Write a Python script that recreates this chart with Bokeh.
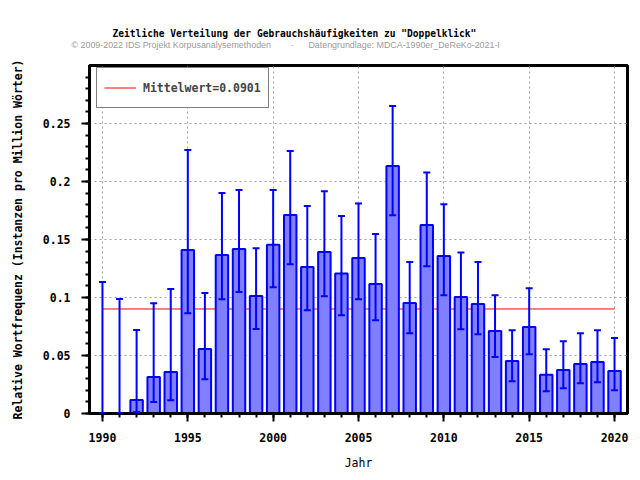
from bokeh.plotting import figure
from bokeh.models import (Range1d, SingleIntervalTicker, Whisker, TeeHead, ColumnDataSource,
                          Legend, LegendItem, Title, CustomJSTickFormatter)
from bokeh.embed import file_html
from bokeh.resources import INLINE

# ---- data ----
years = list(range(1990, 2021))
freq = [0.0, 0.0, 0.0117, 0.0315, 0.0358, 0.1409, 0.0557, 0.1366, 0.1418, 0.1013,
        0.1455, 0.1711, 0.1263, 0.1392, 0.1206, 0.1340, 0.1117, 0.2133, 0.0953, 0.1625,
        0.1358, 0.1004, 0.0944, 0.0712, 0.0453, 0.0746, 0.0333, 0.0376, 0.0427, 0.0445,
        0.0367]
err_upper = [0.1134, 0.0987, 0.0720, 0.0950, 0.1073, 0.2271, 0.1039, 0.1900, 0.1926, 0.1424,
             0.1926, 0.2262, 0.1788, 0.1915, 0.1702, 0.1811, 0.1547, 0.2650, 0.1306, 0.2078,
             0.1803, 0.1389, 0.1306, 0.1019, 0.0717, 0.1079, 0.0554, 0.0623, 0.0692, 0.0717,
             0.0651]
err_lower = [0.0, 0.0, 0.0014, 0.0100, 0.0115, 0.0864, 0.0295, 0.0985, 0.1048, 0.0729,
             0.1088, 0.1286, 0.0890, 0.1010, 0.0847, 0.0985, 0.0804, 0.1708, 0.0692, 0.1269,
             0.1019, 0.0726, 0.0683, 0.0488, 0.0278, 0.0511, 0.0192, 0.0218, 0.0261, 0.0270,
             0.0201]
mean_value = 0.0901

title_text = 'Zeitliche Verteilung der Gebrauchsh\u00e4ufigkeiten zu "Doppelklick"'
nb = "\u00a0"
subtitle_text = ("\u00a9 2009-2022 IDS Projekt Korpusanalysemethoden" + nb * 8 + "\u00b7" + nb * 6
                 + "Datengrundlage: MDCA-1990er_DeReKo-2021-I")
x_label = "Jahr"
y_label = "Relative Wortfrequenz (Instanzen pro Million W\u00f6rter)"

MONO = "DejaVu Sans Mono"
SANS = "Liberation Sans"

src = ColumnDataSource(dict(year=years, freq=freq, upper=err_upper, lower=err_lower))

p = figure(width=640, height=480, output_backend="svg", toolbar_location=None,
           x_range=Range1d(1989.24, 2020.76), y_range=Range1d(0, 0.3),
           min_border_left=89, min_border_right=13, min_border_top=65, min_border_bottom=67)
p.background_fill_color = "white"
p.border_fill_color = "white"
p.outline_line_color = "black"
p.outline_line_width = 3

# grid
for g in (p.xgrid[0], p.ygrid[0]):
    g.grid_line_color = "#a0a0a0"
    g.grid_line_dash = "2 3"
    g.grid_line_width = 1

# mean line (behind bars)
mean_r = p.line(x=[years[0], years[-1]], y=[mean_value, mean_value], line_color="red", line_width=1)

# bars
p.vbar(x="year", top="freq", bottom=0, width=0.73, source=src,
       fill_color="#8080ff", line_color="#0000ff", line_width=2)

# error bars
wh = Whisker(base="year", upper="upper", lower="lower", source=src,
             line_color="#0000ff", line_width=2, level="annotation",
             upper_head=TeeHead(size=7, line_color="#0000ff", line_width=2),
             lower_head=TeeHead(size=7, line_color="#0000ff", line_width=2))
p.add_layout(wh)

# axes
xa = p.xaxis[0]
ya = p.yaxis[0]
xa.ticker = SingleIntervalTicker(interval=5, num_minor_ticks=5)
ya.ticker = SingleIntervalTicker(interval=0.05, num_minor_ticks=5)
p.xgrid[0].ticker = xa.ticker
p.ygrid[0].ticker = ya.ticker
ya.formatter = CustomJSTickFormatter(code="return String(parseFloat(tick.toFixed(3)));")
for ax in (xa, ya):
    ax.axis_line_color = "black"
    ax.axis_line_width = 3
    ax.major_tick_line_color = "black"
    ax.minor_tick_line_color = "black"
    ax.major_tick_line_width = 2
    ax.minor_tick_line_width = 2
    ax.major_tick_out = 8
    ax.major_tick_in = 0
    ax.minor_tick_out = 4
    ax.minor_tick_in = 0
    ax.major_label_text_font = MONO
    ax.major_label_text_font_style = "bold"
    ax.major_label_text_font_size = "11.5px"
    ax.major_label_text_color = "black"
    ax.major_label_standoff = 11
    ax.axis_label_text_font = MONO
    ax.axis_label_text_font_size = "11.5px"
    ax.axis_label_text_color = "black"
xa.axis_label = x_label
xa.axis_label_text_font_style = "normal"
xa.axis_label_standoff = 11
ya.axis_label = y_label
ya.axis_label_text_font_style = "bold"
ya.axis_label_standoff = 15

# legend
legend = Legend(items=[LegendItem(label=f"Mittelwert={mean_value}", renderers=[mean_r])],
                location=(7, 305), padding=7, margin=0, spacing=0,
                glyph_width=32, glyph_height=25, label_height=25, label_standoff=7,
                label_text_font=MONO, label_text_font_style="bold", label_text_font_size="11.5px",
                border_line_color="black", border_line_width=1,
                background_fill_color="white", background_fill_alpha=1)
p.add_layout(legend)

# titles
sub = Title(text=subtitle_text, align="left", offset=-18, text_font=SANS,
            text_font_size="8.9px", text_font_style="normal", text_color="#9a9a9a", standoff=32)
p.add_layout(sub, "above")
main = Title(text=title_text, align="left", offset=23, text_font=MONO,
             text_font_size="9.6px", text_font_style="bold", text_color="black", standoff=-34)
p.add_layout(main, "above")

open("out.html", "w").write(file_html(p, INLINE))
